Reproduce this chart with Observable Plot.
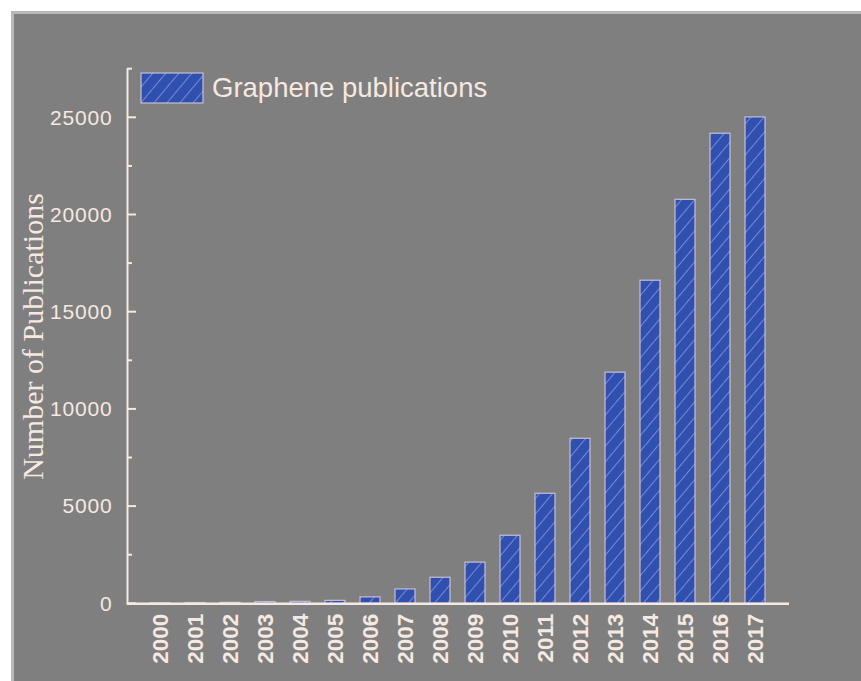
<!DOCTYPE html>
<html>
<head>
<meta charset="utf-8">
<script src="https://cdn.jsdelivr.net/npm/d3@7"></script>
<script src="https://cdn.jsdelivr.net/npm/@observablehq/plot@0.6"></script>
<style>
  body { margin: 0; background: #ffffff; width: 861px; height: 681px; overflow: hidden; position: relative; }
  #panel { position: absolute; left: 11px; top: 11px; width: 850px; height: 670px; background: #7f7f7f;
           border-left: 3px solid #b8b8b8; border-top: 3px solid #b8b8b8; box-sizing: border-box; }
  #chart { position: absolute; left: 0; top: 0; }
  #legend { position: absolute; left: 140px; top: 72px; display: flex; align-items: center; }
  #legend span { font-family: "Liberation Sans", Arial, sans-serif; font-size: 27.5px; color: #f6e9e1; margin-left: 8px; line-height: 32px; }
</style>
</head>
<body>
<div id="panel"></div>
<div id="chart"></div>
<div id="legend">
  <svg width="64" height="32">
    <defs>
      <pattern id="hatchL" patternUnits="userSpaceOnUse" width="10" height="10" patternTransform="rotate(40)">
        <rect width="10" height="10" fill="#3050b0"></rect>
        <line x1="0" y1="0" x2="0" y2="10" stroke="#aeb0ea" stroke-width="1.2"></line>
      </pattern>
    </defs>
    <rect x="1" y="1" width="62" height="30" fill="url(#hatchL)" stroke="#c6bcd6" stroke-width="1.2"></rect>
  </svg>
  <span id="legendText"></span>
</div>
<script>
const years = ["2000","2001","2002","2003","2004","2005","2006","2007","2008","2009","2010","2011","2012","2013","2014","2015","2016","2017"];
const publications = [30, 40, 50, 90, 100, 150, 330, 740, 1340, 2120, 3500, 5660, 8490, 11890, 16620, 20780, 24180, 25020];
const yMajorTicks = [0, 5000, 10000, 15000, 20000, 25000];
const yMinorTicks = [2500, 7500, 12500, 17500, 22500, 27500];
const legendLabel = "Graphene publications";
const yLabel = "Number of Publications";

document.getElementById("legendText").textContent = legendLabel;

const data = years.map((y, i) => ({year: y, value: publications[i]}));
const ink = "#f6e9e1";
const sans = "Liberation Sans, Arial, sans-serif";

const chart = Plot.plot({
  width: 861,
  height: 681,
  marginLeft: 127,
  marginRight: 72,
  marginTop: 68.7,
  marginBottom: 77.7,
  style: {background: "transparent", color: ink, overflow: "visible", fontFamily: sans},
  x: {domain: years, padding: 0.42, label: null},
  y: {domain: [0, 27500], label: null},
  marks: [
    Plot.barY(data, {x: "year", y: "value", fill: "url(#hatch)", stroke: "#c6bcd6", strokeWidth: 1.2}),
    Plot.axisY(yMajorTicks, {anchor: "left", tickSize: 9, tickPadding: 6, strokeWidth: 2, stroke: ink,
      fill: ink, label: null, tickFormat: d => String(d)}),
    Plot.axisY(yMinorTicks, {anchor: "left", tickSize: 5, strokeWidth: 2, stroke: ink, tickFormat: () => "", label: null}),
    Plot.axisX({anchor: "bottom", tickSize: 0, tickPadding: 10, tickRotate: -90, fill: ink, label: null}),
    Plot.frame({anchor: "left", stroke: ink, strokeWidth: 2}),
    Plot.ruleY([0], {stroke: ink, strokeWidth: 2.5}),
    Plot.text([yLabel], {frameAnchor: "left", dx: -94, rotate: -90, text: d => d, fill: ink, textAnchor: "middle",
      fontSize: 30, fontFamily: "Liberation Serif, Times New Roman, serif"})
  ]
});

// hatch pattern definition for the bars
const svgNS = "http://www.w3.org/2000/svg";
const defs = document.createElementNS(svgNS, "defs");
defs.innerHTML = '<pattern id="hatch" patternUnits="userSpaceOnUse" width="10" height="10" patternTransform="rotate(40)">' +
  '<rect width="10" height="10" fill="#3050b0"></rect>' +
  '<line x1="0" y1="0" x2="0" y2="10" stroke="#aeb0ea" stroke-width="1.2"></line></pattern>';
chart.insertBefore(defs, chart.firstChild);

// styling: inward y ticks, font sizes
const sel = d3.select(chart);
const yTickGroups = sel.selectAll('g[aria-label="y-axis tick"]').nodes();
if (yTickGroups[0]) d3.select(yTickGroups[0]).attr("transform", "translate(9,0)");
if (yTickGroups[1]) d3.select(yTickGroups[1]).attr("transform", "translate(5,0)");
sel.selectAll('g[aria-label="y-axis tick label"]').attr("font-size", 21).attr("letter-spacing", "0.8px");
sel.selectAll('g[aria-label="x-axis tick label"]').attr("font-size", 22.5).attr("font-weight", "bold");

document.getElementById("chart").appendChild(chart);
</script>
</body>
</html>
